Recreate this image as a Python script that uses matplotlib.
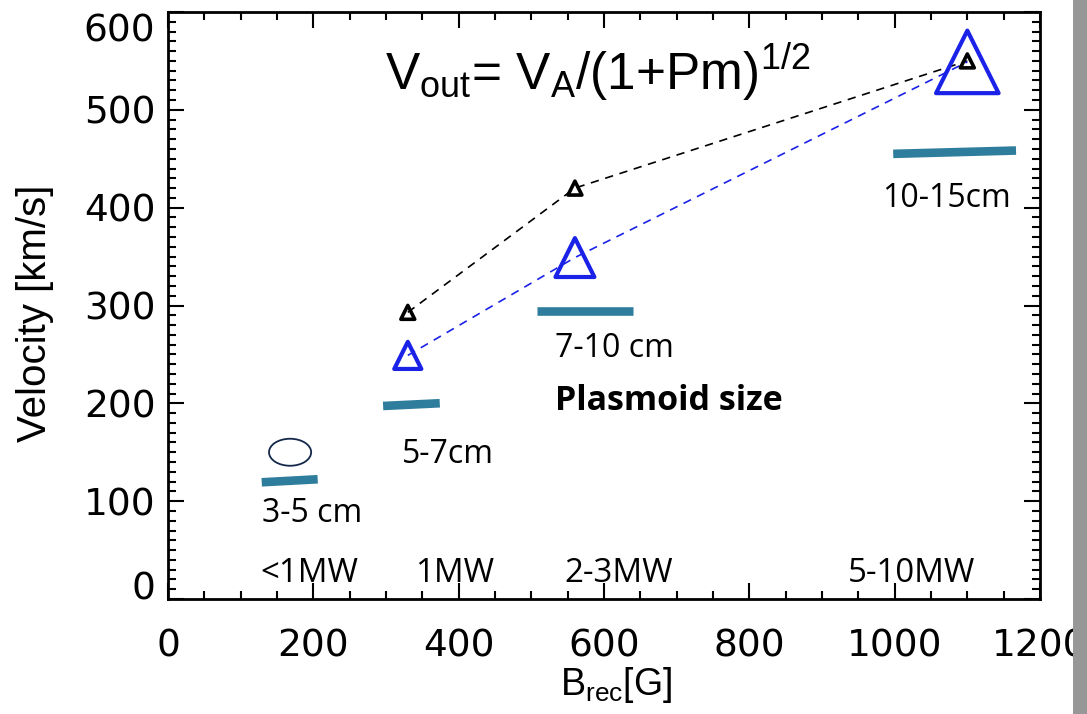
import matplotlib
matplotlib.use("Agg")
import matplotlib.pyplot as plt
from matplotlib.patches import Ellipse, Rectangle
from matplotlib.transforms import ScaledTranslation

# reconnection field [G] and outflow velocities [km/s]
b_rec = [330, 560, 1100]
v_model = [293, 420, 550]          # V_A/(1+Pm)^1/2
v_measured = [249, 349, 549]
marker_pt = [19.5, 28, 45]         # marker size grows with plasmoid size

# plasmoid size bars (start/end field, start/end velocity)
bar_b0 = [129, 296, 508, 998]
bar_b1 = [206, 374, 640, 1167]
bar_v0 = [119.3, 197.3, 294.5, 455.0]
bar_v1 = [122.4, 200.1, 294.5, 458.4]
bar_labels = ["3-5 cm", "5-7cm", "7-10 cm", "10-15cm"]
bar_label_xy = [(129.4, 78.7), (322, 139), (532.5, 247.4), (982.5, 400.8)]

# heating power categories
power_labels = ["<1MW", "1MW", "2-3MW", "5-10MW"]
power_label_x = [126.6, 340, 546, 935.7]
power_label_y = 17.4

# reference plasmoid outline
ellipse_center = (168, 150)
ellipse_size = (58, 27.6)

x_ticks = [0, 200, 400, 600, 800, 1000, 1200]
y_ticks = [0, 100, 200, 300, 400, 500, 600]

W, H, DPI = 1087, 714, 100
fig = plt.figure(figsize=(W / DPI, H / DPI), dpi=DPI)
ax = fig.add_axes([168 / W, 1 - 599 / H, (1040 - 168) / W, (599 - 12) / H])

teal = "#2f7d9c"
blue = "#1a22e8"
note_font = "Open Sans"
sans = "Liberation Sans"

# model curve and measurements
ax.plot(b_rec, v_model, color="black", lw=1.2, dashes=(5, 4), zorder=2)
ax.scatter(b_rec, v_model, marker="^", s=10 ** 2, facecolors="none",
           edgecolors="black", linewidths=2.6, zorder=3)
ax.plot(b_rec, v_measured, color=blue, lw=1.2, dashes=(5, 4), zorder=2)
ax.scatter(b_rec, v_measured, marker="^", s=[m ** 2 for m in marker_pt],
           facecolors="none", edgecolors=blue, linewidths=3, zorder=4)

# plasmoid size bars
for x0, x1, y0, y1 in zip(bar_b0, bar_b1, bar_v0, bar_v1):
    ax.plot([x0, x1], [y0, y1], color=teal, lw=6.2, solid_capstyle="butt", zorder=2)

ax.add_patch(Ellipse(ellipse_center, ellipse_size[0], ellipse_size[1],
                     facecolor="none", edgecolor="#14284a", lw=1.3, zorder=3))

for lab, (x, y) in zip(bar_labels, bar_label_xy):
    ax.text(x, y, lab, family=note_font, fontsize=23, ha="left", va="baseline")
ax.text(532.5, 193.3, "Plasmoid size", family=note_font, fontsize=24.5,
        fontweight="bold", ha="left", va="baseline")

for lab, x in zip(power_labels, power_label_x):
    ax.text(x, power_label_y, lab, family=note_font, fontsize=23.8,
            ha="left", va="baseline")

ax.text(298, 520.5,
        r"V$_{\mathregular{out}}$= V$_{\mathregular{A}}$/(1+Pm)$^{\mathregular{1/2}}$",
        family=sans, fontsize=37, ha="left", va="baseline")

# axes styling
ax.set_xlim(0, 1200)
ax.set_ylim(0, 600)
ax.set_xticks(x_ticks)
ax.set_yticks(y_ticks)
ax.set_xticks(range(0, 1201, 50), minor=True)
ax.set_yticks(range(0, 601, 10), minor=True)
ax.tick_params(which="both", direction="in", top=True, right=True, width=1.5,
               labelsize=27)
ax.tick_params(which="major", length=11.5)
ax.tick_params(which="minor", length=5.8)
ax.tick_params(axis="x", pad=21)
ax.tick_params(axis="y", pad=9)
for lbl in ax.get_xticklabels() + ax.get_yticklabels():
    lbl.set_family("DejaVu Sans")
for sp in ax.spines.values():
    sp.set_linewidth(2)

ax.set_xlabel(r"B$_{\mathregular{rec}}$[G]", family=sans, fontsize=27,
              va="baseline")
ax.xaxis.set_label_coords((616 - 168) / 872, (599 - 695) / 587)
ax.set_ylabel("Velocity [km/s]", family=sans, fontsize=29, rotation=90,
              va="center", ha="center", rotation_mode="default")
ax.yaxis.set_label_coords((35 - 168) / 872, (599 - 313) / 587)

# keep the end labels of the velocity axis inside the frame
yt = ax.yaxis.get_major_ticks()
yt[0].label1.set_transform(yt[0].label1.get_transform()
                           + ScaledTranslation(0, 13 / DPI, fig.dpi_scale_trans))
yt[-1].label1.set_transform(yt[-1].label1.get_transform()
                            + ScaledTranslation(0, -15 / DPI, fig.dpi_scale_trans))

# grey margin strip at the right edge
fig.patches.append(Rectangle((1073 / W, 0), 1, 1, transform=fig.transFigure,
                             facecolor="#979797", edgecolor="none", zorder=10))

fig.savefig("out.png", dpi=DPI)
